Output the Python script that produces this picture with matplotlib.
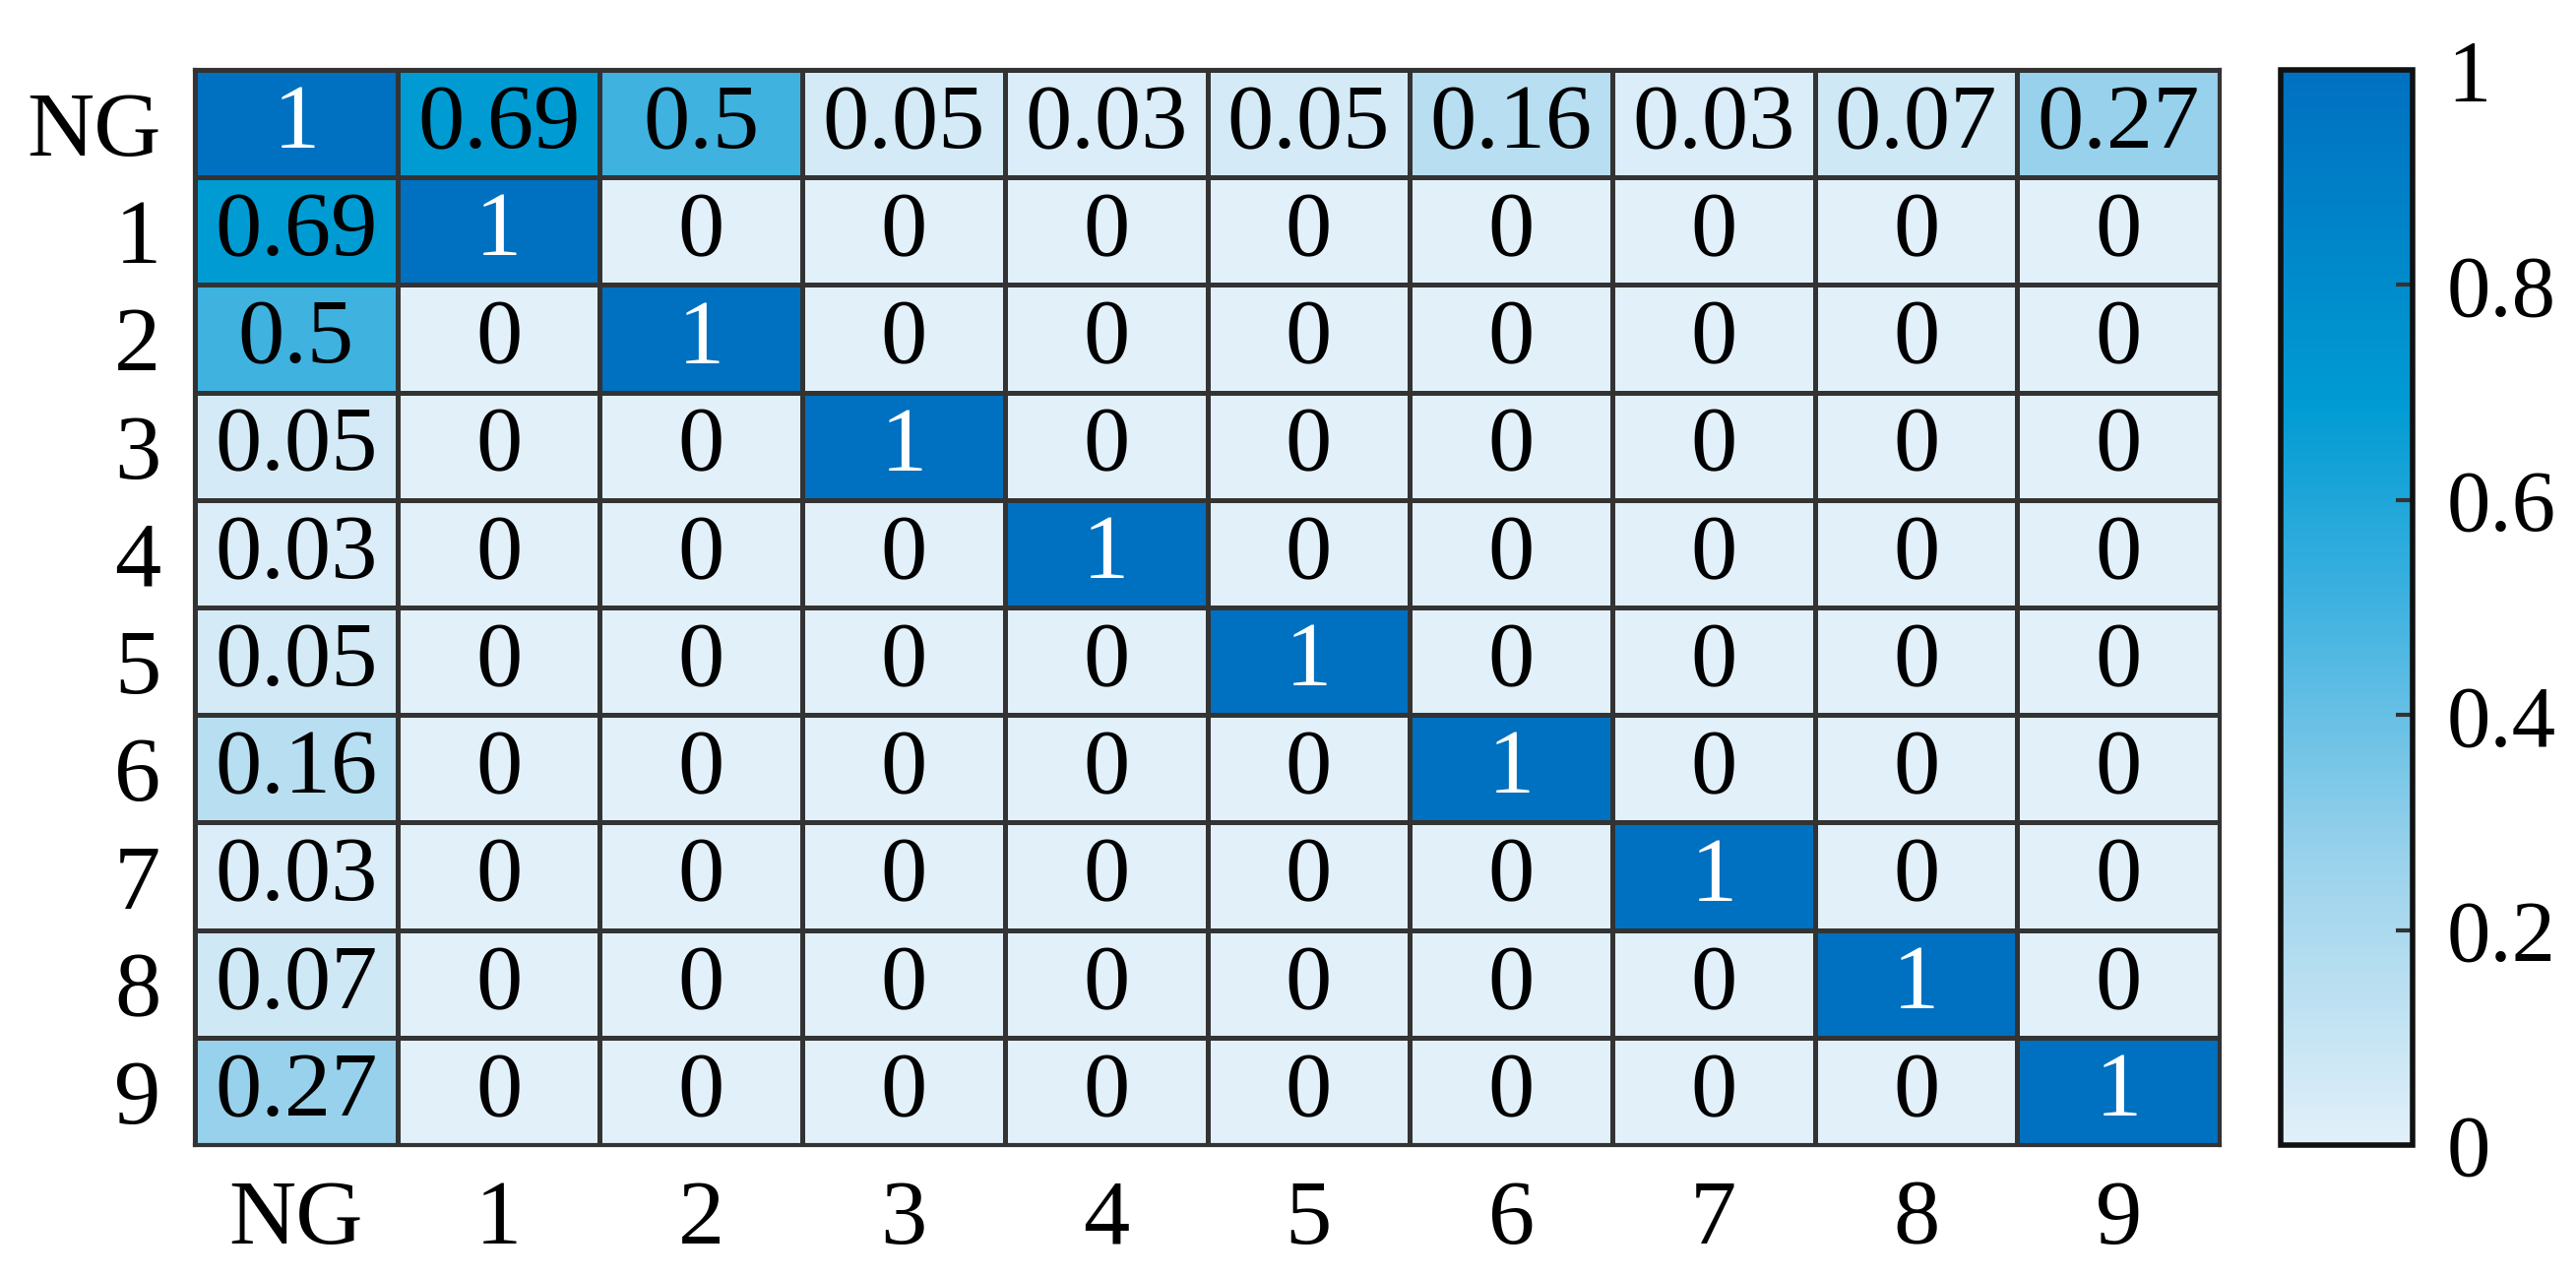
import matplotlib.pyplot as plt
import numpy as np
from matplotlib.colors import LinearSegmentedColormap

labels = ['NG', '1', '2', '3', '4', '5', '6', '7', '8', '9']
ng_row = [1, 0.69, 0.5, 0.05, 0.03, 0.05, 0.16, 0.03, 0.07, 0.27]
cb_ticks = [0, 0.2, 0.4, 0.6, 0.8, 1]
cb_labels = ['0', '0.2', '0.4', '0.6', '0.8', '1']

# symmetric matrix: NG row/column plus identity for the rest
M = np.eye(10)
M[0, :] = ng_row
M[:, 0] = ng_row

cmap = LinearSegmentedColormap.from_list('blues', [
    (0.0, '#E1F0F9'),
    (0.27, '#98D1EB'),
    (0.5, '#40B2E0'),
    (0.69, '#009BD3'),
    (1.0, '#0070C0'),
])

plt.rcParams['font.family'] = ['Liberation Serif', 'DejaVu Serif']

fig = plt.figure(figsize=(26.17, 12.97), dpi=100)
ax = fig.add_axes([0.0757, 0.1033, 0.786, 0.842])
cax = fig.add_axes([0.8854, 0.1033, 0.0512, 0.842])

x = np.arange(11)
mesh = ax.pcolormesh(x, x, M, cmap=cmap, vmin=0, vmax=1,
                     edgecolors='#333333', linewidth=2.5)
ax.set_xlim(0, 10)
ax.set_ylim(10, 0)

for i in range(10):
    for j in range(10):
        v = M[i, j]
        col = 'white' if v > 0.9 else 'black'
        ax.text(j + 0.5, i + 0.52, '%g' % v, ha='center', va='center',
                fontsize=68, color=col)

ax.set_xticks(np.arange(10) + 0.5)
ax.set_yticks(np.arange(10) + 0.5)
ax.set_xticklabels(labels, fontsize=68)
ax.set_yticklabels(labels, fontsize=68)
ax.tick_params(length=0, pad=25)
for s in ax.spines.values():
    s.set_linewidth(3)
    s.set_color('#333333')

cb = fig.colorbar(mesh, cax=cax)
cb.set_ticks(cb_ticks)
cb.set_ticklabels(cb_labels)
cax.tick_params(direction='in', length=12, width=3, labelsize=64, pad=25, color='#333333')
cb.outline.set_linewidth(4)
cb.outline.set_edgecolor('#111111')

fig.savefig('out.png', dpi=100)
